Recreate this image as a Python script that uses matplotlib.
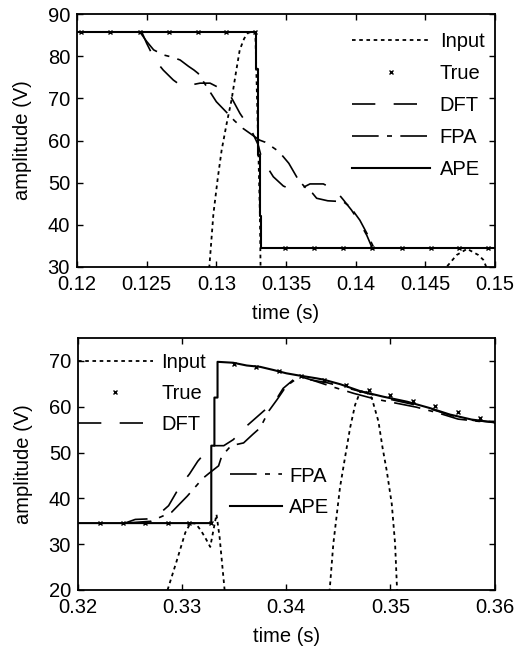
import matplotlib
matplotlib.use("Agg")
import matplotlib.pyplot as plt
from matplotlib.ticker import FormatStrFormatter

plt.rcParams['font.family'] = ['Liberation Sans', 'DejaVu Sans']
plt.rcParams['font.size'] = 14.5

# ---- top panel (fault at ~0.133 s) ----
in1_t_a = [0.12945, 0.12979, 0.13010, 0.13038, 0.13074, 0.13109, 0.13140, 0.13168,
           0.13200, 0.13227, 0.13255, 0.13280, 0.13300, 0.13313, 0.13318]
in1_v_a = [28.0, 42.6, 51.0, 57.7, 64.0, 69.6, 76.0, 81.5,
           84.2, 85.5, 85.8, 85.6, 60.0, 42.0, 28.0]
in1_t_b = [0.1462, 0.14665, 0.14725, 0.1480, 0.14880, 0.14916, 0.1495]
in1_v_b = [29.0, 30.5, 32.85, 34.3, 32.85, 31.7, 29.0]

true1_t = [0.1203, 0.1224, 0.1245, 0.1266, 0.1287, 0.1307, 0.1328, 0.1349,
           0.1370, 0.1391, 0.1412, 0.1433, 0.1454, 0.1474, 0.1495]
true1_v = [85.8, 85.8, 85.8, 85.8, 85.8, 85.8, 85.8, 34.4,
           34.4, 34.4, 34.4, 34.4, 34.4, 34.4, 34.4]

dft1_t = [0.1245, 0.12464, 0.12500, 0.12560, 0.12619, 0.12691, 0.12739, 0.12775,
          0.12883, 0.12955, 0.13026, 0.13098, 0.1317, 0.1325, 0.1330, 0.13325,
          0.13409, 0.13481, 0.13517, 0.13613, 0.13672, 0.13768, 0.13852, 0.1391,
          0.1397, 0.1403, 0.1408, 0.1412]
dft1_v = [85.8, 85.8, 83.05, 79.1, 76.7, 74.35, 73.2, 72.9,
          73.6, 73.6, 72.4, 70.8, 66.4, 62.5, 59.0, 55.8,
          51.4, 49.2, 48.7, 48.7, 49.7, 49.7, 48.3, 46.0,
          43.5, 40.5, 37.5, 34.4]

fpa1_t = [0.1245, 0.1250, 0.1255, 0.1262, 0.1268, 0.1274, 0.1280, 0.1284, 0.1287,
          0.1293, 0.1300, 0.1307, 0.1313, 0.1319, 0.1325, 0.1331, 0.1335, 0.1340,
          0.1345, 0.1352, 0.1359, 0.1364, 0.1369, 0.1372, 0.1380, 0.1391, 0.1396,
          0.1403, 0.1408, 0.1413]
fpa1_v = [85.8, 83.5, 81.5, 80.3, 79.8, 79.1, 77.6, 76.7, 75.9,
          72.8, 69.2, 66.8, 64.7, 62.9, 61.5, 60.1, 59.6, 58.5,
          57.35, 54.6, 50.6, 48.8, 47.5, 46.3, 45.7, 45.5, 44.3,
          41.1, 38.0, 34.6]

ape1_t = [0.12, 0.13283, 0.13283, 0.13300, 0.13300, 0.13313, 0.13313, 0.13322, 0.13322, 0.15]
ape1_v = [85.8, 85.8, 77.0, 77.0, 56.5, 56.5, 42.0, 42.0, 34.4, 34.4]

# ---- bottom panel (fault at ~0.333 s) ----
in2_t_a = [0.3286, 0.3295, 0.3303, 0.3308, 0.3313, 0.3318, 0.3322, 0.3327,
           0.3330, 0.3333, 0.3336, 0.3339, 0.3341]
in2_v_a = [20.0, 26.5, 32.5, 34.6, 34.5, 33.0, 31.5, 29.4,
           33.0, 36.5, 31.5, 24.3, 19.5]
in2_t_b = [0.34415, 0.34452, 0.34516, 0.34564, 0.34613, 0.34661, 0.34709, 0.3475,
           0.34821, 0.34885, 0.34925, 0.34965, 0.35013, 0.35045, 0.35065]
in2_v_b = [19.5, 30.1, 42.4, 48.9, 55.4, 60.4, 63.2, 63.6,
           61.9, 56.8, 51.0, 46.0, 38.8, 30.1, 19.5]

true2_t = [0.3221, 0.3243, 0.3264, 0.3286, 0.3307, 0.3328, 0.3350, 0.3371, 0.3393,
           0.3414, 0.3436, 0.3457, 0.3479, 0.3500, 0.3522, 0.3543, 0.3565, 0.3586]
true2_v = [34.6, 34.6, 34.6, 34.6, 34.6, 34.6, 69.4, 68.6, 67.8,
           66.8, 65.8, 64.7, 63.6, 62.5, 61.3, 60.1, 58.9, 57.6]

dft2_t = [0.3245, 0.3255, 0.3266, 0.3275, 0.3287, 0.3298, 0.3307, 0.3315, 0.3328,
          0.3340, 0.3349, 0.3354, 0.3360, 0.3369, 0.3378, 0.3389, 0.3397, 0.3410,
          0.3420, 0.3440, 0.3460, 0.3480, 0.3500, 0.3520, 0.3540, 0.3560, 0.3580, 0.3600]
dft2_v = [34.6, 35.4, 35.5, 36.0, 38.4, 42.7, 45.3, 48.1, 51.5,
          51.5, 52.8, 53.9, 55.4, 57.2, 59.0, 61.1, 64.0, 66.5,
          66.0, 65.2, 64.0, 62.8, 61.6, 60.6, 59.4, 58.0, 57.0, 56.6]

fpa2_t = [0.3245, 0.3270, 0.3290, 0.3305, 0.3315, 0.3319, 0.3326, 0.3335, 0.3338,
          0.3347, 0.3359, 0.3368, 0.3375, 0.3383, 0.3391, 0.3400, 0.3413, 0.3425,
          0.3445, 0.3465, 0.3485, 0.3505, 0.3525, 0.3545, 0.3565, 0.3585, 0.3600]
fpa2_v = [34.6, 35.0, 37.0, 40.5, 43.1, 44.2, 45.5, 47.1, 49.2,
          51.5, 52.1, 54.0, 55.4, 59.0, 61.5, 64.5, 66.6, 65.8,
          64.3, 62.9, 61.7, 60.8, 59.9, 58.7, 57.3, 56.8, 56.8]

ape2_t = [0.32, 0.3328, 0.3328, 0.3331, 0.3331, 0.3334, 0.3334, 0.3349, 0.3362, 0.3375,
          0.3388, 0.3400, 0.3410, 0.3429, 0.3436, 0.3452, 0.3471, 0.3493, 0.3516,
          0.3538, 0.3557, 0.3578, 0.3599, 0.36]
ape2_v = [34.6, 34.6, 51.5, 51.5, 62.0, 62.0, 69.8, 69.6, 69.0, 68.7,
          68.0, 67.3, 66.9, 66.2, 65.9, 64.9, 63.4, 62.2, 61.1,
          59.7, 58.3, 57.2, 56.6, 56.5]

input_dash = (2, 2)
dft_dash = (14, 11)
fpa_dash = (16, 5, 3, 5)
FS = 14.5


def draw_panel(ax, in_a, in_b, tr, dft, fpa, ape):
    h_in, = ax.plot(in_a[0], in_a[1], color='k', lw=1.3, dashes=input_dash, label='Input')
    ax.plot(in_b[0], in_b[1], color='k', lw=1.3, dashes=input_dash)
    h_dft, = ax.plot(dft[0], dft[1], color='k', lw=1.2, dashes=dft_dash, label='DFT')
    h_fpa, = ax.plot(fpa[0], fpa[1], color='k', lw=1.2, dashes=fpa_dash, label='FPA')
    h_ape, = ax.plot(ape[0], ape[1], color='k', lw=1.5, label='APE')
    h_tr, = ax.plot(tr[0], tr[1], 'x', color='k', ms=3, mew=1.0, label='True')
    ax.tick_params(direction='in', top=True, right=True, length=4.5, width=1,
                   labelsize=FS)
    ax.tick_params(axis='x', pad=6)
    ax.tick_params(axis='y', pad=5)
    for s in ax.spines.values():
        s.set_linewidth(1.3)
    ax.set_xlabel('time (s)', fontsize=FS, labelpad=7)
    ax.set_ylabel('amplitude (V)', fontsize=FS, labelpad=11)
    return h_in, h_tr, h_dft, h_fpa, h_ape


fig = plt.figure(figsize=(5.22, 6.52), dpi=100)

ax1 = fig.add_axes([0.1475, 0.5905, 0.8008, 0.388])
hs = draw_panel(ax1, (in1_t_a, in1_v_a), (in1_t_b, in1_v_b), (true1_t, true1_v),
                (dft1_t, dft1_v), (fpa1_t, fpa1_v), (ape1_t, ape1_v))
ax1.set_xlim(0.12, 0.15)
ax1.set_ylim(30, 90)
ax1.set_xticks([0.12, 0.125, 0.13, 0.135, 0.14, 0.145, 0.15])
ax1.set_yticks([30, 40, 50, 60, 70, 80, 90])
ax1.xaxis.set_major_formatter(FormatStrFormatter('%g'))
ax1.legend(hs, ['Input', 'True', 'DFT', 'FPA', 'APE'], loc='upper right', frameon=False,
           handlelength=3.85, handletextpad=0.5, labelspacing=0.65, fontsize=FS,
           borderaxespad=0.0, borderpad=0.0, bbox_to_anchor=(0.975, 0.93))

ax2 = fig.add_axes([0.1494, 0.0951, 0.798, 0.3865])
hs2 = draw_panel(ax2, (in2_t_a, in2_v_a), (in2_t_b, in2_v_b), (true2_t, true2_v),
                 (dft2_t, dft2_v), (fpa2_t, fpa2_v), (ape2_t, ape2_v))
ax2.set_xlim(0.32, 0.36)
ax2.set_ylim(20, 75)
ax2.set_xticks([0.32, 0.33, 0.34, 0.35, 0.36])
ax2.set_yticks([20, 30, 40, 50, 60, 70])
ax2.xaxis.set_major_formatter(FormatStrFormatter('%g'))
leg_a = ax2.legend(hs2[:3], ['Input', 'True', 'DFT'], loc='upper left', frameon=False,
                   handlelength=3.7, handletextpad=0.45, labelspacing=0.6, fontsize=FS,
                   borderaxespad=0.0, borderpad=0.0, bbox_to_anchor=(0.0, 0.94))
ax2.add_artist(leg_a)
ax2.legend(hs2[3:], ['FPA', 'APE'], loc='upper left', frameon=False,
           handlelength=2.6, handletextpad=0.35, labelspacing=0.6, fontsize=FS,
           borderaxespad=0.0, borderpad=0.0, bbox_to_anchor=(0.365, 0.49))

fig.savefig('out.png', dpi=100)
